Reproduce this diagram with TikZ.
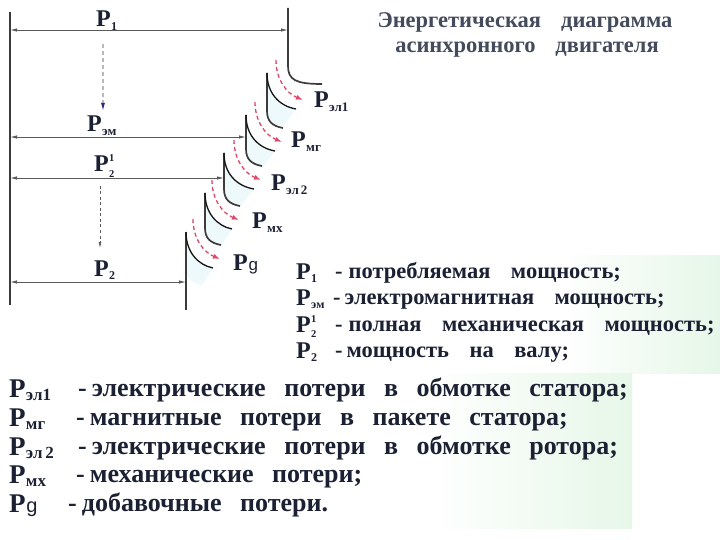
\documentclass[tikz,border=0pt]{standalone}
\usepackage{fontspec}
\setmainfont{Liberation Serif}
\newfontfamily\sansf{Liberation Sans}
\usetikzlibrary{arrows.meta}
\definecolor{ink}{HTML}{1C2033}
\definecolor{titlec}{HTML}{444B5C}
\definecolor{linec}{HTML}{3C3C3C}
\definecolor{curvec}{HTML}{151515}
\definecolor{arrc}{HTML}{5A5A5A}
\definecolor{redarr}{HTML}{E0486A}
\definecolor{paleg}{HTML}{E6F7E8}
\definecolor{palec}{HTML}{EEF9FB}
\definecolor{navyc}{HTML}{2A2E80}
\newcommand\Ps[2][12]{P\kern0.3pt\raisebox{-3.5pt}{\fontsize{#1}{#1}\selectfont #2}}
\newcommand\Pst[1][10.5]{P\kern0.3pt\rlap{\raisebox{10pt}{\fontsize{#1}{#1}\selectfont 1}}\raisebox{-5.5pt}{\fontsize{#1}{#1}\selectfont 2}}
\newcommand\Pg[1][17]{P\kern0.8pt{\sansf\mdseries\fontsize{#1}{#1}\selectfont g}}
\newcommand\wsa{\spaceskip=20.5pt plus 2pt\relax}
\newcommand\wsb{\spaceskip=18.5pt plus 2pt\relax}
\begin{document}
\begin{tikzpicture}[x=1pt,y=-1pt,
  vline/.style={draw=linec,line width=1.7pt},
  curve/.style={draw=curvec,line width=1.3pt},
  harr/.style={draw=arrc,line width=0.9pt,{Latex[length=7pt,width=3.5pt]}-{Latex[length=7pt,width=3.5pt]}},
  redd/.style={draw=redarr,line width=1.3pt,dash pattern=on 4pt off 3pt,-{Latex[length=7pt,width=5pt]}},
  lbl/.style={font=\fontsize{24}{26}\selectfont\bfseries,text=ink,inner sep=0pt},
  lblb/.style={font=\fontsize{27}{29}\selectfont\bfseries,text=ink,inner sep=0pt},
  ttl/.style={font=\fontsize{22.5}{24}\selectfont\bfseries,text=titlec,inner sep=0pt},
  lega/.style={font=\fontsize{22.5}{25}\selectfont\bfseries,text=ink,inner sep=0pt},
  legb/.style={font=\fontsize{26}{28}\selectfont\bfseries,text=ink,inner sep=0pt}]
\useasboundingbox (0,0) rectangle (720,540);
\fill[white] (0,0) rectangle (720,540);
% pale green background tint
\shade[left color=white,right color=paleg] (560,255) rectangle (720,373);
\shade[left color=white,right color=paleg] (430,373) rectangle (632,528);

% title
\node[ttl,anchor=base] (t1) at (525,28) {Энергетическая\hspace{20pt}диаграмма};
\node[ttl,anchor=base] (t2) at (527,53) {асинхронного\hspace{20pt}двигателя};

% cyan tints under the fans
\foreach \x/\t/\nx in {288/73/267, 267/115/246, 246/153/224, 224/193/205, 205/232/186}{
  \fill[palec] (\nx,\t) .. controls (\nx,\t+20) and (\nx+12,\t+33) .. (\x+8,\t+36)
     -- (\nx+16,\t+53) .. controls (\nx+5,\t+51) and (\nx,\t+46) .. (\nx,\t+36) -- cycle;
}

% left line and the main right edge
\coordinate (L1) at (10,12);
\coordinate (L2) at (10,305);
\draw[vline] (L1) -- (L2);
\draw[vline] (288,8) -- (288,66) .. controls (288,80) and (296,84) .. (322,84);
% stepped right edges with their lower bends
\foreach \x/\t/\tn in {267/73/115, 246/115/153, 224/153/193, 205/193/232}{
  \draw[vline] (\x,\t) -- (\x,\tn-4) .. controls (\x,\tn+6) and (\x+5,\tn+11) .. (\x+16,\tn+13);
}
\draw[vline] (186,232) -- (186,310);

% inner arcs and red arrows of the losses
\foreach \x/\t/\nx in {288/73/267, 267/115/246, 246/153/224, 224/193/205, 205/232/186}{
  \draw[curve] (\nx,\t) .. controls (\nx,\t+20) and (\nx+12,\t+33) .. (\x+8,\t+36);
  \draw[redd] (\x-12,\t-13) .. controls (\x-12,\t+6) and (\x-2,\t+20) .. (\x+15,\t+27);
}

% horizontal power arrows
\coordinate (a1l) at (10,30);   \coordinate (a1r) at (288,30);
\coordinate (a2l) at (10,137);  \coordinate (a2r) at (246,137);
\coordinate (a3l) at (10,178);  \coordinate (a3r) at (224,178);
\coordinate (a4l) at (10,282);  \coordinate (a4r) at (186,282);
\draw[harr] (a1l) -- (a1r);
\draw[harr] (a2l) -- (a2r);
\draw[harr] (a3l) -- (a3r);
\draw[harr] (a4l) -- (a4r);

% diagram labels
\node[lbl,anchor=base west] (p1) at (96,27) {\Ps{1}};
\node[lbl,anchor=base west] (pem) at (87,132) {\Ps[13]{эм}};
\node[lbl,anchor=base west] (p2s) at (94,172) {\Pst};
\node[lbl,anchor=base west] (p2) at (94,276) {\Ps{2}};
\node[lbl,anchor=base west] (pel1) at (314,108) {\Ps[13]{эл1}};
\node[lbl,anchor=base west] (pmg) at (291,148) {\Ps[13]{мг}};
\node[lbl,anchor=base west] (pel2) at (271,191) {\Ps[13]{эл\,2}};
\node[lbl,anchor=base west] (pmh) at (252,229) {\Ps[13]{мх}};
\node[lbl,anchor=base west] (pg) at (233,270) {\Pg};

% vertical dashed arrows
\draw[draw=gray!55,line width=1.2pt,dash pattern=on 4pt off 3pt,-{Latex[length=8pt,width=4pt,color=navyc]}] (103,44) -- (103,111);
\draw[draw=arrc,line width=0.7pt,dash pattern=on 3pt off 2.5pt,-{Latex[length=6pt,width=3pt]}] (100,186) -- (100,248);

% upper legend
\node[lbl,anchor=base west] (u1p) at (296,279) {\Ps{1}};
\node[lega,anchor=base west] (u1t) at (335,278) {\wsa -\hspace{6pt}потребляемая мощность;};
\node[lbl,anchor=base west] (u2p) at (296,305) {\Ps{эм}};
\node[lega,anchor=base west] (u2t) at (333,304) {\wsa -\hspace{4pt}электромагнитная мощность;};
\node[lbl,anchor=base west] (u3p) at (296,332) {\Pst};
\node[lega,anchor=base west] (u3t) at (335,331) {\wsa -\hspace{6pt}полная механическая мощность;};
\node[lbl,anchor=base west] (u4p) at (296,358) {\Ps{2}};
\node[lega,anchor=base west] (u4t) at (335,357) {\wsa -\hspace{4pt}мощность на валу;};

% lower legend
\node[lblb,anchor=base west] (l1p) at (9,397) {\Ps[17]{эл1}};
\node[legb,anchor=base west] (l1t) at (78,396) {\wsb -\hspace{5pt}электрические потери в обмотке статора;};
\node[lblb,anchor=base west] (l2p) at (9,426) {\Ps[17]{мг}};
\node[legb,anchor=base west] (l2t) at (76,425) {\wsb -\hspace{5pt}магнитные потери в пакете статора;};
\node[lblb,anchor=base west] (l3p) at (9,455) {\Ps[17]{эл\,2}};
\node[legb,anchor=base west] (l3t) at (78,454) {\wsb -\hspace{5pt}электрические потери в обмотке ротора;};
\node[lblb,anchor=base west] (l4p) at (9,483) {\Ps[17]{мх}};
\node[legb,anchor=base west] (l4t) at (76,482) {\wsb -\hspace{5pt}механические потери;};
\node[lblb,anchor=base west] (l5p) at (9,512) {\Pg[20]};
\node[legb,anchor=base west] (l5t) at (68,511) {\wsb -\hspace{5pt}добавочные потери.};
\end{tikzpicture}
\end{document}
